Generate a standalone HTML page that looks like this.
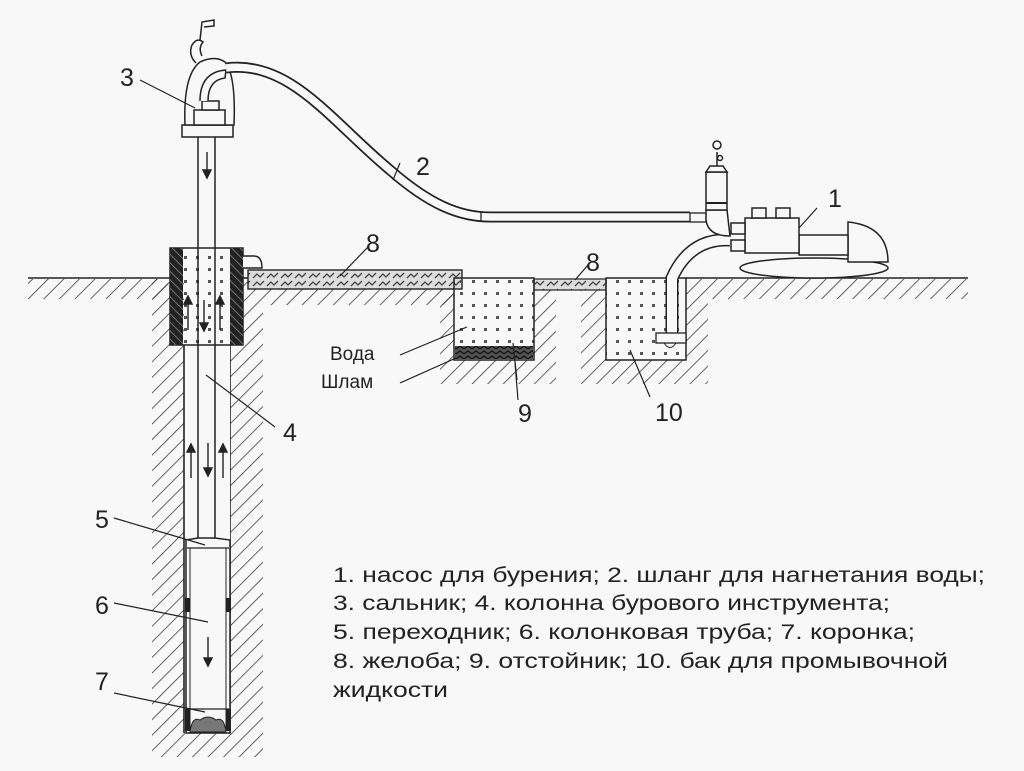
<!DOCTYPE html>
<html><head><meta charset="utf-8"><style>
html,body{margin:0;padding:0;background:#f8f8f8;}
svg{display:block}
text{font-family:"Liberation Sans","DejaVu Sans",sans-serif;fill:#222}
</style></head><body>
<svg width="1024" height="771" viewBox="0 0 1024 771" xmlns="http://www.w3.org/2000/svg">
<defs>
<pattern id="h" width="11" height="11" patternUnits="userSpaceOnUse" patternTransform="rotate(45)">
<line x1="0" y1="0" x2="0" y2="11" stroke="#222" stroke-width="1.4"/>
</pattern>
<pattern id="dots" width="12" height="12" patternUnits="userSpaceOnUse">
<rect x="4" y="4" width="3" height="3" fill="#555"/>
</pattern>
<pattern id="blk" width="6" height="6" patternUnits="userSpaceOnUse" patternTransform="rotate(-45)">
<rect width="6" height="6" fill="#222"/><line x1="0" y1="0" x2="0" y2="6" stroke="#888" stroke-width="1.5"/>
</pattern>
<pattern id="grav" width="14" height="8" patternUnits="userSpaceOnUse">
<rect width="14" height="8" fill="#ddd"/>
<path d="M1 6 L5 2 L8 5 L12 1" stroke="#444" stroke-width="1.3" fill="none"/>
</pattern>
<pattern id="sl" width="8" height="5" patternUnits="userSpaceOnUse">
<rect width="8" height="5" fill="#555"/><path d="M0 4 L4 1 L8 4" stroke="#111" stroke-width="1.4" fill="none"/>
</pattern>
</defs>
<rect width="1024" height="771" fill="#f8f8f8"/>

<!-- ground hatching -->
<g fill="url(#h)">
<rect x="28" y="279" width="140" height="20"/>
<rect x="152" y="279" width="32" height="478"/>
<rect x="230" y="279" width="33" height="478"/>
<rect x="263" y="285" width="191" height="20"/>
<rect x="440" y="279" width="14" height="105"/>
<rect x="454" y="360" width="80" height="24"/>
<rect x="534" y="279" width="22" height="105"/>
<rect x="581" y="279" width="25" height="105"/>
<rect x="606" y="360" width="80" height="24"/>
<rect x="686" y="279" width="22" height="105"/>
<rect x="708" y="279" width="260" height="20"/>
</g>
<rect x="184" y="733" width="46" height="24" fill="url(#h)"/>
<g stroke="#222" stroke-width="1.6" fill="none">
<line x1="28" y1="278" x2="170" y2="278"/>
<line x1="243" y1="278" x2="248" y2="278"/>
<line x1="686" y1="278" x2="968" y2="278"/>
<line x1="184" y1="345" x2="184" y2="733"/>
<line x1="230" y1="345" x2="230" y2="733"/>
</g>

<rect x="185" y="345" width="45" height="388" fill="#f8f8f8"/>
<!-- casing -->
<rect x="170" y="248" width="73" height="97" fill="url(#dots)" stroke="#222" stroke-width="1.5"/>
<rect x="170" y="248" width="13" height="97" fill="url(#blk)"/>
<rect x="230" y="248" width="13" height="97" fill="url(#blk)"/>
<g stroke="#222" stroke-width="1.5" fill="none">
<line x1="198" y1="137" x2="198" y2="538"/>
<line x1="215" y1="137" x2="215" y2="538"/>
</g>
<!-- core tube -->
<path d="M198 538 L186 540 L186 733 L230 733 L230 540 L215 538 Z" fill="#f8f8f8" stroke="#222" stroke-width="1.5"/>
<line x1="187" y1="548" x2="229" y2="548" stroke="#222" stroke-width="1.2"/>
<line x1="190" y1="548" x2="190" y2="728" stroke="#222" stroke-width="1"/>
<line x1="226" y1="548" x2="226" y2="728" stroke="#222" stroke-width="1"/>
<rect x="185" y="598" width="5" height="14" fill="#222"/><rect x="226" y="598" width="5" height="14" fill="#222"/>
<line x1="187" y1="709" x2="229" y2="709" stroke="#222" stroke-width="1.2"/>
<rect x="185" y="709" width="5" height="22" fill="#222"/><rect x="226" y="709" width="5" height="22" fill="#222"/>
<path d="M190 732 Q192 716 200 720 Q208 714 216 720 Q224 716 226 732 Z" fill="#777" stroke="#222"/>

<!-- arrows -->
<g stroke="#222" stroke-width="1.4" fill="#222">
<line x1="207" y1="152" x2="207" y2="172"/><path d="M203 170 L207 178 L211 170Z"/>
<line x1="188" y1="330" x2="188" y2="302"/><path d="M184 304 L188 296 L192 304Z"/>
<line x1="204" y1="300" x2="204" y2="325"/><path d="M200 323 L204 331 L208 323Z"/>
<line x1="220" y1="330" x2="220" y2="302"/><path d="M216 304 L220 296 L224 304Z"/>
<line x1="191" y1="478" x2="191" y2="450"/><path d="M187 452 L191 444 L195 452Z"/>
<line x1="208" y1="443" x2="208" y2="470"/><path d="M204 468 L208 476 L212 468Z"/>
<line x1="223" y1="478" x2="223" y2="450"/><path d="M219 452 L223 444 L227 452Z"/>
<line x1="208" y1="637" x2="208" y2="660"/><path d="M204 658 L208 666 L212 658Z"/>
</g>

<!-- swivel -->
<g stroke="#222" stroke-width="1.5" fill="#f8f8f8">
<rect x="182" y="125" width="51" height="12"/>
<path d="M185 125 Q183 75 200 62 Q215 55 225 62 Q236 75 234 125Z"/>
<rect x="194" y="110" width="31" height="15"/>
<rect x="202" y="101" width="17" height="9"/>
<path d="M208 101 Q208 80 225 78 L226 70 Q200 72 200 101" fill="#f8f8f8"/>
<path d="M196 63 Q188 55 192 45 Q197 37 203 42 Q198 48 202 56" fill="none"/>
<path d="M200 40 L202 22 L214 20 L214 26 L204 27" fill="none"/>
</g>
<path d="M243 256 L254 256 Q262 256 262 268 L243 268" fill="#f8f8f8" stroke="#222" stroke-width="1.4"/>

<!-- hose 2 -->
<path d="M226 68 C290 60 330 120 390 170 C430 205 460 217 490 217 L690 217" fill="none" stroke="#222" stroke-width="11"/>
<path d="M226 68 C290 60 330 120 390 170 C430 205 460 217 490 217 L690 217" fill="none" stroke="#f8f8f8" stroke-width="7.5"/>
<line x1="481" y1="212" x2="481" y2="222" stroke="#222" stroke-width="1.3"/>
<rect x="690" y="213" width="16" height="9" fill="#f8f8f8" stroke="#222" stroke-width="1.3"/>

<!-- troughs -->
<rect x="248" y="270" width="214" height="19" fill="url(#grav)" stroke="#222" stroke-width="1.4"/>
<rect x="534" y="279" width="72" height="11" fill="url(#grav)" stroke="#222" stroke-width="1.2"/>

<!-- tank 9 -->
<rect x="454" y="278" width="80" height="82" fill="url(#dots)" stroke="#222" stroke-width="1.5"/>
<rect x="455" y="346" width="78" height="13" fill="url(#sl)"/>
<!-- tank 10 -->
<rect x="606" y="278" width="80" height="82" fill="url(#dots)" stroke="#222" stroke-width="1.5"/>

<!-- suction hose -->
<path d="M730 240 Q690 238 672 278 L672 335" fill="none" stroke="#222" stroke-width="13"/>
<path d="M730 240 Q690 238 672 278 L672 335" fill="none" stroke="#f8f8f8" stroke-width="10"/>
<rect x="656" y="333" width="30" height="10" fill="#f8f8f8" stroke="#222" stroke-width="1.3"/>
<path d="M664 343 Q670 352 676 343" fill="none" stroke="#222"/>

<!-- pump -->
<g stroke="#222" stroke-width="1.5" fill="#f8f8f8">
<ellipse cx="814" cy="268" rx="74" ry="10"/>
<path d="M848 222 Q888 226 888 262 L848 262 Z"/>
<rect x="799" y="235" width="49" height="20"/>
<rect x="745" y="218" width="54" height="35"/>
<rect x="752" y="208" width="14" height="10"/><rect x="776" y="208" width="14" height="10"/>
<rect x="731" y="223" width="14" height="11"/><rect x="731" y="240" width="14" height="11"/>
<path d="M706 210 L706 220 Q708 236 730 236 L727 210Z"/>
<rect x="706" y="172" width="21" height="38"/>
<path d="M706 172 L710 166 L723 166 L727 172Z"/>
<line x1="717" y1="166" x2="717" y2="152"/>
<circle cx="717" cy="145" r="4"/>
<circle cx="720" cy="158" r="2.5"/>
</g>
<line x1="706" y1="203" x2="727" y2="203" stroke="#222" stroke-width="2"/>

<!-- leader lines -->
<g stroke="#222" stroke-width="1.2" fill="none">
<line x1="140" y1="80" x2="195" y2="108"/>
<line x1="400" y1="163" x2="393" y2="180"/>
<line x1="817" y1="208" x2="799" y2="228"/>
<line x1="368" y1="247" x2="340" y2="276"/>
<line x1="588" y1="265" x2="575" y2="280"/>
<line x1="400" y1="355" x2="467" y2="327"/>
<line x1="400" y1="383" x2="456" y2="358"/>
<line x1="513" y1="343" x2="517" y2="380"/>
<line x1="515" y1="363" x2="518" y2="400"/>
<line x1="630" y1="350" x2="650" y2="397"/>
<line x1="275" y1="427" x2="206" y2="375"/>
<line x1="114" y1="518" x2="205" y2="545"/>
<line x1="114" y1="603" x2="208" y2="622"/>
<line x1="114" y1="693" x2="205" y2="712"/>
</g>

<!-- labels -->
<g font-size="25">
<text x="120" y="86">3</text>
<text x="416" y="175">2</text>
<text x="828" y="207">1</text>
<text x="366" y="252">8</text>
<text x="586" y="271">8</text>
<text x="518" y="422">9</text>
<text x="655" y="421">10</text>
<text x="283" y="441">4</text>
<text x="95" y="528">5</text>
<text x="95" y="614">6</text>
<text x="95" y="690">7</text>
</g>
<g font-size="19">
<text x="330" y="360">Вода</text>
<text x="321" y="388">Шлам</text>
</g>
<g font-size="21" fill="#333">
<text x="333" y="582" textLength="652" lengthAdjust="spacingAndGlyphs">1. насос для бурения; 2. шланг для нагнетания воды;</text>
<text x="333" y="610" textLength="557" lengthAdjust="spacingAndGlyphs">3. сальник; 4. колонна бурового инструмента;</text>
<text x="333" y="639" textLength="582" lengthAdjust="spacingAndGlyphs">5. переходник; 6. колонковая труба; 7. коронка;</text>
<text x="333" y="668" textLength="615" lengthAdjust="spacingAndGlyphs">8. желоба; 9. отстойник; 10. бак для промывочной</text>
<text x="333" y="697" textLength="115" lengthAdjust="spacingAndGlyphs">жидкости</text>
</g>
</svg>
</body></html>
